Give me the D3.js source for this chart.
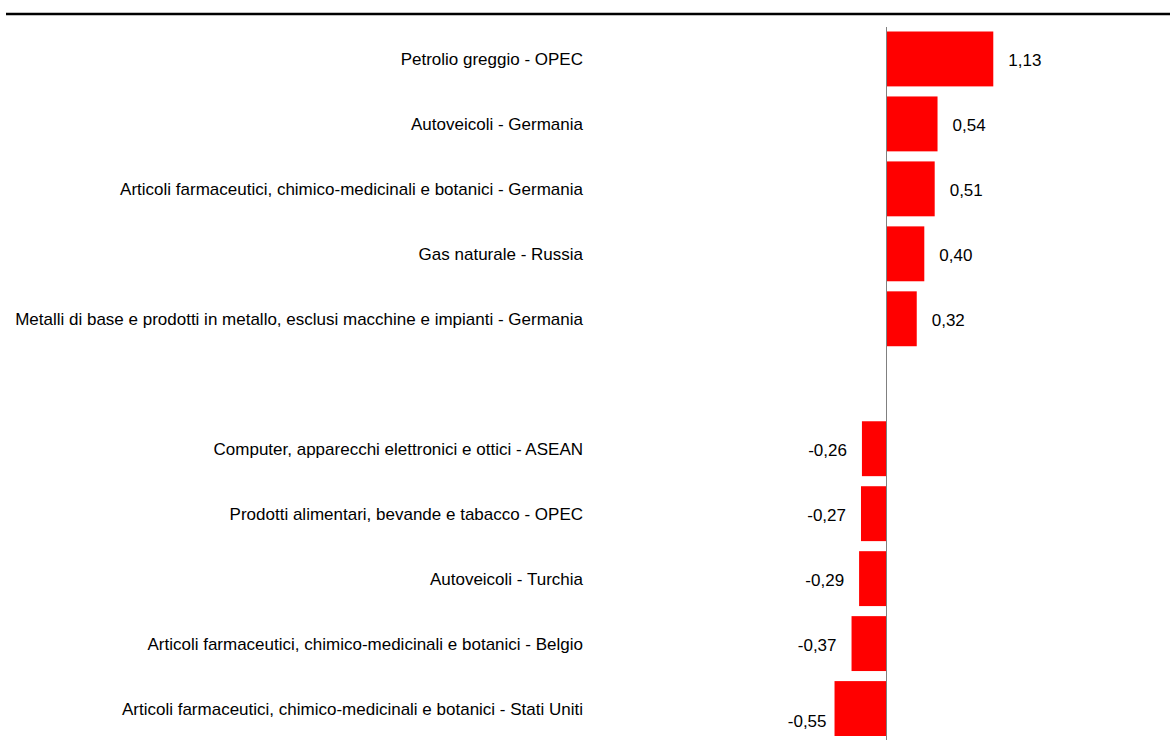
<!DOCTYPE html>
<html>
<head>
<meta charset="utf-8">
<script src="https://cdn.jsdelivr.net/npm/d3@7"></script>
<style>
  body { margin: 0; background: #fff; }
  svg text { font-family: "Liberation Sans", Arial, sans-serif; fill: #000; }
</style>
</head>
<body>
<div id="chart"></div>
<script>
// Data
var categories = [
  "Petrolio greggio - OPEC",
  "Autoveicoli - Germania",
  "Articoli farmaceutici, chimico-medicinali e botanici - Germania",
  "Gas naturale - Russia",
  "Metalli di base e prodotti in metallo, esclusi macchine e impianti - Germania",
  "",
  "Computer, apparecchi elettronici e ottici - ASEAN",
  "Prodotti alimentari, bevande e tabacco - OPEC",
  "Autoveicoli - Turchia",
  "Articoli farmaceutici, chimico-medicinali e botanici - Belgio",
  "Articoli farmaceutici, chimico-medicinali e botanici - Stati Uniti"
];
var values = [1.13, 0.54, 0.51, 0.40, 0.32, null, -0.26, -0.27, -0.29, -0.37, -0.55];

var width = 1170, height = 749;
var svg = d3.select("#chart").append("svg")
  .attr("width", width)
  .attr("height", height);

// top rule
svg.append("line")
  .attr("x1", 6).attr("x2", width)
  .attr("y1", 14).attr("y2", 14)
  .attr("stroke", "#000")
  .attr("stroke-width", 2.6);

var xScale = d3.scaleLinear()
  .domain([-1, 1])
  .range([886.5 - 94.5, 886.5 + 94.5]);

var yScale = d3.scaleBand()
  .domain(d3.range(categories.length))
  .range([26.5, 741])
  .paddingInner(0.155)
  .paddingOuter(0.077);

var fmt = function (v) { return d3.format(".2f")(v).replace(".", ",").replace("−", "-"); };

var rows = categories.map(function (c, i) { return {cat: c, val: values[i], i: i}; });

// bars
svg.append("g").selectAll("rect")
  .data(rows.filter(function (d) { return d.val != null; }))
  .enter()
  .append("rect")
  .attr("x", function (d) { return xScale(Math.min(0, d.val)); })
  .attr("y", function (d) { return yScale(d.i); })
  .attr("width", function (d) { return Math.abs(xScale(d.val) - xScale(0)); })
  .attr("height", yScale.bandwidth())
  .attr("fill", "#ff0000");

// zero axis
svg.append("line")
  .attr("x1", xScale(0)).attr("x2", xScale(0))
  .attr("y1", 27).attr("y2", 740)
  .attr("stroke", "#808080")
  .attr("stroke-width", 1);

// category labels
svg.append("g").selectAll("text")
  .data(rows)
  .enter()
  .append("text")
  .attr("x", 583)
  .attr("y", function (d) { return yScale(d.i) + yScale.bandwidth() / 2; })
  .attr("dy", "0.35em")
  .attr("text-anchor", "end")
  .style("font-size", "17px")
  .text(function (d) { return d.cat; });

// value labels
var last = values.length - 1;
svg.append("g").selectAll("text")
  .data(rows.filter(function (d) { return d.val != null; }))
  .enter()
  .append("text")
  .attr("x", function (d) {
    if (d.val >= 0) return xScale(d.val) + 15;
    return xScale(d.val) - (d.i === last ? 8 : 15);
  })
  .attr("y", function (d) {
    return yScale(d.i) + yScale.bandwidth() / 2 + (d.i === last ? 12 : 1);
  })
  .attr("dy", "0.35em")
  .attr("text-anchor", function (d) { return d.val >= 0 ? "start" : "end"; })
  .style("font-size", "17px")
  .text(function (d) { return fmt(d.val); });
</script>
</body>
</html>
